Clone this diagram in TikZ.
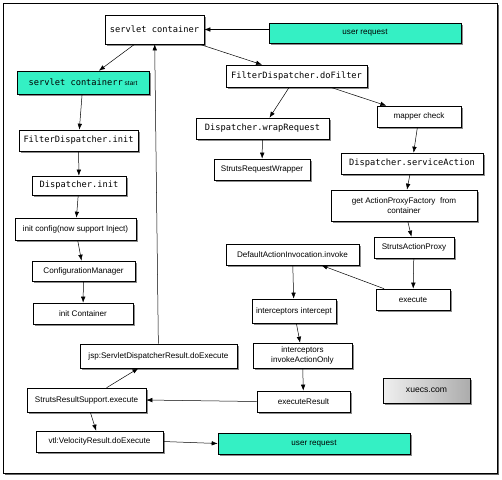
\documentclass[tikz,border=0pt]{standalone}
\usepackage{fontspec}
\setmainfont{Liberation Sans}
\setmonofont{DejaVu Sans Mono}
\usetikzlibrary{arrows.meta,shadows}
\definecolor{requestgreen}{RGB}{52,240,196}
\tikzset{
  flowbox/.style={draw, line width=0.6pt, fill=white, inner sep=1pt, align=center,
    font=\fontsize{8.1}{10}\selectfont,
    drop shadow={shadow xshift=1.5pt, shadow yshift=-1.5pt, opacity=0.45, fill=black}},
  codebox/.style={flowbox, font=\ttfamily\fontsize{8.7}{10}\selectfont},
  requestbox/.style={flowbox, fill=requestgreen},
  flowarrow/.style={-{Latex[length=6pt,width=4.5pt]}, line width=0.5pt},
}
\newcommand{\FlowBox}[7]{% style, name, x, y, w, h, text
  \node[#1, minimum width=#5pt, minimum height=#6pt] (#2) at (#3,#4) {#7};
}

\begin{document}
\begin{tikzpicture}[x=1pt, y=-1pt]
  \useasboundingbox (0,0) rectangle (502,479);
  \draw[line width=1pt, fill=white,
    drop shadow={shadow xshift=2pt, shadow yshift=-2pt, opacity=0.6, fill=black}]
    (3,3) rectangle (497,473);
  %
  % start-up column
  \FlowBox{codebox}{scont}{154.5}{29.5}{99}{29}{servlet container}
  \FlowBox{requestbox}{ureqtop}{365}{33}{192}{20}{user request}
  \FlowBox{requestbox, font=\ttfamily\fontsize{8.7}{10}\selectfont}{scstart}{83}{82.5}{132}{23}
    {servlet containerr{\rmfamily\fontsize{6.5}{8}\selectfont\ start}}
  \FlowBox{codebox}{fdinit}{78.5}{140.5}{119}{21}{FilterDispatcher.init}
  \FlowBox{codebox}{dinit}{79}{185.5}{94}{19}{Dispatcher.init}
  \FlowBox{flowbox}{initcfg}{75.5}{229}{121}{22}{init config(now support Inject)}
  \FlowBox{flowbox}{cfgmgr}{83.5}{271}{103}{20}{ConfigurationManager}
  \FlowBox{flowbox}{initcont}{83}{313.5}{100}{21}{init Container}
  %
  % result column
  \FlowBox{flowbox}{jsp}{158.5}{356}{157}{24}{jsp:ServletDispatcherResult.doExecute}
  \FlowBox{flowbox}{srsexec}{86.5}{400}{119}{24}{StrutsResultSupport.execute}
  \FlowBox{flowbox}{vtl}{99.5}{441.5}{127}{21}{vtl:VelocityResult.doExecute}
  \FlowBox{requestbox}{ureqbot}{314}{443.5}{192}{21}{user request}
  %
  % request column
  \FlowBox{codebox}{dofilter}{296.5}{76}{141}{22}{FilterDispatcher.doFilter}
  \FlowBox{codebox}{wrapreq}{262.5}{128.5}{133}{21}{Dispatcher.wrapRequest}
  \FlowBox{flowbox}{srwrap}{262}{169.5}{96}{21}{StrutsRequestWrapper}
  \FlowBox{flowbox}{mapper}{419}{116.5}{84}{21}{mapper check}
  \FlowBox{codebox}{svcaction}{412}{163.5}{142}{21}{Dispatcher.serviceAction}
  \FlowBox{flowbox}{getapf}{404}{205.5}{146}{31}{get ActionProxyFactory\ \ from\\container}
  \FlowBox{flowbox}{sap}{414}{247.5}{80}{21}{StrutsActionProxy}
  \FlowBox{flowbox}{dai}{292.5}{254.5}{133}{21}{DefaultActionInvocation.invoke}
  \FlowBox{flowbox}{execute}{413}{299.5}{74}{21}{execute}
  \FlowBox{flowbox}{icpt}{294}{311}{84}{24}{interceptors intercept}
  \FlowBox{flowbox}{invoke}{302.5}{355.5}{99}{25}{interceptors\\invokeActionOnly}
  \FlowBox{flowbox}{execres}{303.5}{401.5}{93}{21}{executeResult}
  \FlowBox{flowbox, shading=axis, left color=gray!12, right color=gray!65,
    font=\fontsize{8.6}{10}\selectfont}{xuecs}{426.5}{390.5}{87}{25}{xuecs.com}
  %
  \draw[flowarrow] (ureqtop.west |- scont.east) -- (scont.east);
  \draw[flowarrow] (scont) -- (scstart);
  \draw[flowarrow] (scont) -- (dofilter);
  \draw[flowarrow] (scstart) -- (fdinit);
  \draw[flowarrow] (fdinit) -- (dinit);
  \draw[flowarrow] (dinit) -- (initcfg);
  \draw[flowarrow] (initcfg) -- (cfgmgr);
  \draw[flowarrow] (cfgmgr) -- (initcont);
  \draw[flowarrow] (jsp) -- (scont);
  \draw[flowarrow] (srsexec) -- (jsp);
  \draw[flowarrow] (srsexec) -- (vtl);
  \draw[flowarrow] (vtl.east) -- (ureqbot.west);
  \draw[flowarrow] (execres.west) -- (srsexec.east);
  %
  \draw[flowarrow] (dofilter) -- (wrapreq);
  \draw[flowarrow] (dofilter) -- (mapper);
  \draw[flowarrow] (wrapreq) -- (srwrap);
  \draw[flowarrow] (mapper) -- (svcaction);
  \draw[flowarrow] (svcaction) -- (getapf);
  \draw[flowarrow] (getapf) -- (sap);
  \draw[flowarrow] (sap) -- (execute);
  \draw[flowarrow] (execute) -- (dai);
  \draw[flowarrow] (dai) -- (icpt);
  \draw[flowarrow] (icpt) -- (invoke);
  \draw[flowarrow] (invoke) -- (execres);
\end{tikzpicture}
\end{document}
